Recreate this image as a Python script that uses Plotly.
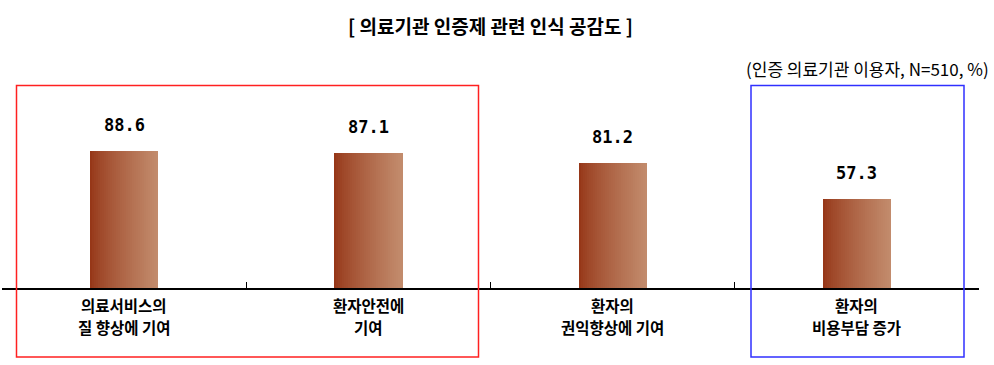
import plotly.graph_objects as go
import numpy as np

categories = ["의료서비스의<br>질 향상에 기여", "환자안전에<br>기여", "환자의<br>권익향상에 기여", "환자의<br>비용부담 증가"]
values = [88.6, 87.1, 81.2, 57.3]
value_labels = ["88.6", "87.1", "81.2", "57.3"]
title_text = "[ 의료기관 인증제 관련 인식 공감도 ]"
subtitle_text = "(인증 의료기관 이용자, N=510, %)"

W, H = 994, 365
ml, mr, mt, mb = 2, 15, 60, 77
pw = W - ml - mr
ph = H - mt - mb
ymax = ph / 1.545

x = list(range(len(categories)))
bar_w = 68 / (pw / 4)
n_strips = 34
c0 = np.array([150, 55, 24])
c1 = np.array([194, 139, 108])

fig = go.Figure()
for i in range(n_strips):
    t = i / (n_strips - 1)
    tt = t ** 0.8
    c = c0 + (c1 - c0) * tt
    col = "rgb(%d,%d,%d)" % tuple(c.round().astype(int))
    sw = bar_w / n_strips
    fig.add_trace(go.Bar(
        x=x, y=values, width=[sw * 1.15] * len(x),
        offset=[-bar_w / 2 + i * sw] * len(x),
        marker=dict(color=col, line=dict(width=0)),
        hoverinfo="skip", showlegend=False,
    ))

def px_x(p):
    return (p - ml) / pw

def px_y(p):
    return 1 - (p - mt) / ph

shapes = [
    dict(type="rect", xref="paper", yref="paper",
         x0=px_x(16.5), x1=px_x(478.5), y0=px_y(357), y1=px_y(85.5),
         line=dict(color="#FF2020", width=1.5)),
    dict(type="rect", xref="paper", yref="paper",
         x0=px_x(751), x1=px_x(964), y0=px_y(357), y1=px_y(85.5),
         line=dict(color="#3030FF", width=1.5)),
]

annotations = [
    dict(text=lab, x=xi, y=v, xref="x", yref="y", yshift=26,
         xanchor="center", yanchor="middle", showarrow=False,
         font=dict(family="DejaVu Sans Mono", size=17, color="#000000", weight="bold"))
    for xi, v, lab in zip(x, values, value_labels)
]
# category labels, one annotation per line
for xi, cat in zip(x, categories):
    for li, line in enumerate(cat.split("<br>")):
        annotations.append(dict(
            text="<b>" + line + "</b>", x=xi, y=px_y(305 + 22 * li), xref="x", yref="paper",
            xanchor="center", yanchor="middle", showarrow=False,
            font=dict(family="Noto Sans CJK KR", size=15.5, color="#000000")))
annotations += [
    dict(text="<b>" + title_text + "</b>", xref="paper", yref="paper",
         x=px_x(490), y=px_y(25), xanchor="center", yanchor="middle",
         showarrow=False, font=dict(family="Noto Sans CJK KR", size=19, color="#000000")),
    dict(text=subtitle_text, xref="paper", yref="paper",
         x=px_x(991), y=px_y(68), xanchor="right", yanchor="middle",
         showarrow=False, font=dict(family="Noto Sans CJK KR", size=17, color="#000000")),
]

fig.update_layout(
    width=W, height=H,
    margin=dict(l=ml, r=mr, t=mt, b=mb),
    paper_bgcolor="white", plot_bgcolor="white",
    barmode="overlay", bargap=0,
    shapes=shapes,
    font=dict(family="Noto Sans CJK KR", color="#000000"),
    xaxis=dict(
        range=[-0.5, 3.5], tickmode="array", tickvals=[-0.5, 0.5, 1.5, 2.5, 3.5],
        ticktext=["", "", "", "", ""],
        ticks="inside", ticklen=6, tickcolor="#000000", tickwidth=1,
        showline=True, linecolor="#000000", linewidth=1.5,
        showgrid=False, zeroline=False,
    ),
    yaxis=dict(range=[0, ymax], visible=False, showgrid=False, zeroline=False),
    annotations=annotations,
)

fig.write_html("out.html")
